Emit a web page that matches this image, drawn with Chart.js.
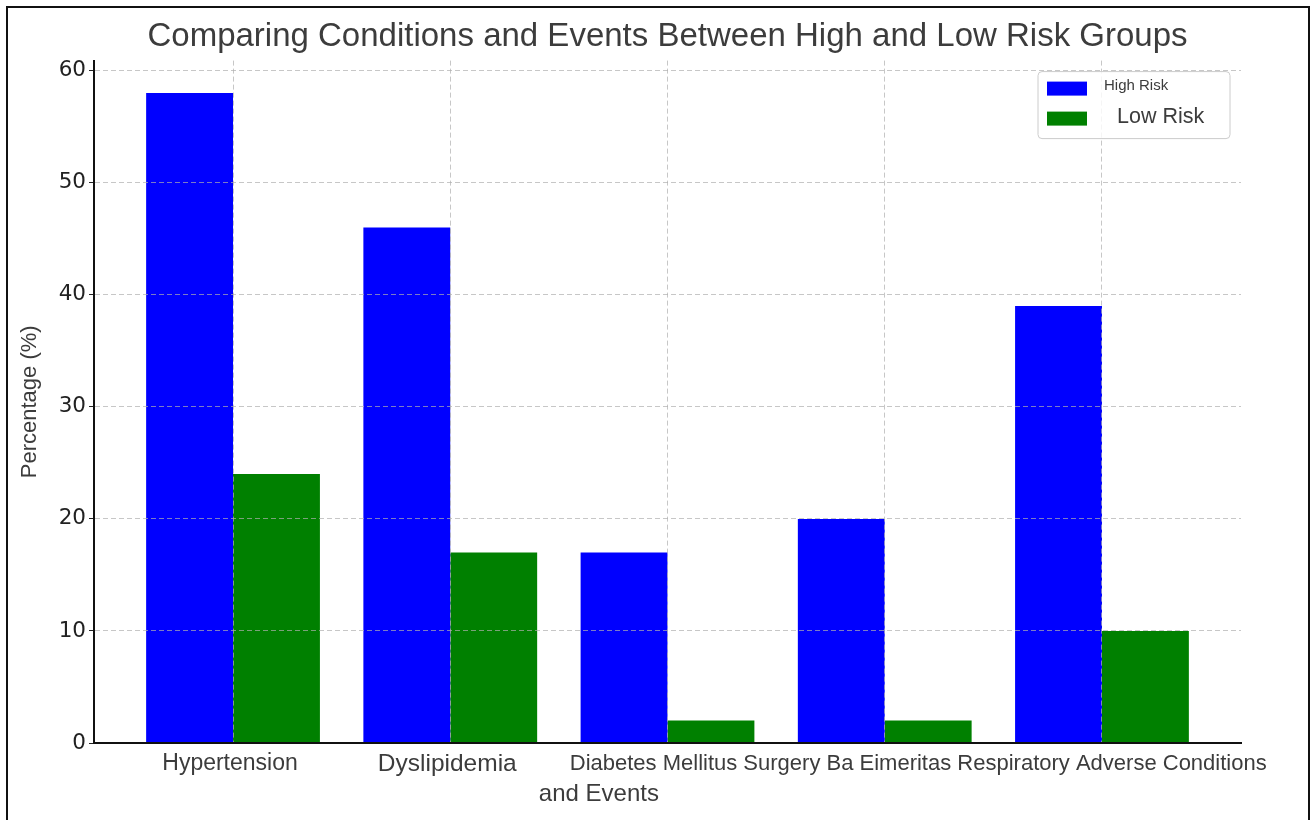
<!DOCTYPE html>
<html>
<head>
<meta charset="utf-8">
<script src="https://cdn.jsdelivr.net/npm/chart.js@4.4.1/dist/chart.umd.min.js"></script>
<style>
  html, body { margin: 0; padding: 0; background: #fff; overflow: hidden; }
  #wrap { position: relative; width: 1311px; height: 820px; }
  #c { position: absolute; left: 0; top: 0; }
  #frame { position: absolute; left: 6px; top: 6px; width: 1300px; height: 840px;
           border: 2px solid #111; border-bottom: none; pointer-events: none; }
</style>
</head>
<body>
<div id="wrap">
  <canvas id="c" width="1311" height="820"></canvas>
  <div id="frame"></div>
</div>
<script>
// ---- data ----
const categories = ['Hypertension', 'Dyslipidemia', 'Diabetes Mellitus', 'Surgery Ba Eimeritas', 'Respiratory Adverse Conditions'];
const highRisk = [58, 46, 17, 20, 39];
const lowRisk = [24, 17, 2, 2, 10];
const yTicks = [0, 10, 20, 30, 40, 50, 60];
const chartTitle = 'Comparing Conditions and Events Between High and Low Risk Groups';
const xTitle = 'and Events';
const yTitle = 'Percentage (%)';
const seriesNames = ['High Risk', 'Low Risk'];

// ---- styling ----
const SANS = "'Liberation Sans', Arial, sans-serif";
const DEJAVU = "'DejaVu Sans', sans-serif";
const TEXT = '#3c3c3c';
const categoryFontSizes = [23, 24.5, 22, 22, 22];
const legendFontSizes = [15, 21.5];
const gridColor = 'rgba(175,175,175,0.7)';

const toPoints = (vals) => vals.map((v, i) => ({ x: i, y: v }));

// Category names under the x axis; the last three share one running line.
const categoryLabels = {
  id: 'categoryLabels',
  afterDraw(chart) {
    const xs = chart.scales.x;
    const ctx = chart.ctx;
    ctx.save();
    ctx.fillStyle = TEXT;
    ctx.textBaseline = 'middle';
    ctx.textAlign = 'left';
    const y = xs.top + 21;
    let runEnd = null;
    categories.forEach((name, i) => {
      ctx.font = `${categoryFontSizes[i]}px ${SANS}`;
      const w = ctx.measureText(name).width;
      let x = xs.getPixelForValue(i) - w / 2;
      if (i < 2) x -= 3;
      if (i === 2) x -= 14;
      if (i > 2 && runEnd !== null) x = runEnd + ctx.measureText(' ').width;
      ctx.fillText(name, x, y);
      if (i >= 2) runEnd = x + w;
    });
    // x-axis title
    ctx.font = `24px ${SANS}`;
    ctx.textAlign = 'center';
    const tx = (xs.getPixelForValue(1) + xs.getPixelForValue(2)) / 2 + 40;
    ctx.fillText(xTitle, tx, xs.top + 51);
    ctx.restore();
  }
};

// Framed legend in the upper right of the plot area.
const boxLegend = {
  id: 'boxLegend',
  afterDraw(chart) {
    const ctx = chart.ctx;
    const a = chart.chartArea;
    const w = 192, h = 67;
    const x0 = a.right - 11 - w, y0 = a.top + 11;
    ctx.save();
    ctx.beginPath();
    ctx.roundRect(x0, y0, w, h, 4);
    ctx.fillStyle = 'rgba(255,255,255,0.82)';
    ctx.fill();
    ctx.strokeStyle = '#cccccc';
    ctx.lineWidth = 1;
    ctx.stroke();
    chart.data.datasets.forEach((ds, i) => {
      const rowY = y0 + 17 + i * 30;
      ctx.fillStyle = ds.backgroundColor;
      ctx.fillRect(x0 + 9, rowY - 7, 40, 14);
      ctx.fillStyle = TEXT;
      ctx.font = `${legendFontSizes[i]}px ${SANS}`;
      ctx.textBaseline = 'middle';
      ctx.fillText(ds.label, x0 + (i === 0 ? 66 : 79), rowY - (i === 0 ? 3 : 2));
    });
    ctx.restore();
  }
};

new Chart(document.getElementById('c'), {
  type: 'bar',
  data: {
    datasets: [
      { label: seriesNames[0], data: toPoints(highRisk), backgroundColor: '#0000ff', borderWidth: 0 },
      { label: seriesNames[1], data: toPoints(lowRisk), backgroundColor: '#008000', borderWidth: 0 }
    ]
  },
  options: {
    responsive: false,
    animation: false,
    devicePixelRatio: 1,
    categoryPercentage: 0.8,
    barPercentage: 1.0,
    layout: { padding: { left: 0, right: 70, top: 0, bottom: 0 } },
    plugins: {
      legend: { display: false },
      tooltip: { enabled: false },
      title: {
        display: true,
        text: chartTitle,
        fullSize: false,
        color: TEXT,
        font: { family: SANS, size: 33, weight: 'normal', lineHeight: 1.2 },
        padding: { top: 17, bottom: 4 }
      }
    },
    scales: {
      x: {
        type: 'linear',
        min: -0.64,
        max: 4.64,
        offset: false,
        afterBuildTicks: (s) => { s.ticks = categories.map((_, i) => ({ value: i })); },
        afterFit: (s) => { s.height = 77; },
        ticks: { display: false },
        grid: { z: 1, offset: false, color: gridColor, lineWidth: 1, drawTicks: false },
        border: { z: 2, color: '#111', width: 2, dash: [5, 3] }
      },
      y: {
        min: 0,
        max: 60.9,
        afterBuildTicks: (s) => { s.ticks = yTicks.map(v => ({ value: v })); },
        afterFit: (s) => { s.width = 94; },
        ticks: { color: '#222', padding: 3, font: { family: DEJAVU, size: 21.5 } },
        grid: { z: 1, color: gridColor, lineWidth: 1, drawTicks: true, tickLength: 5,
                tickColor: '#222', tickWidth: 1, tickBorderDash: [] },
        border: { z: 2, color: '#111', width: 2, dash: [5, 3] },
        title: { display: true, text: yTitle, color: TEXT,
                 font: { family: SANS, size: 22 }, padding: { top: 17, bottom: 0 } }
      }
    }
  },
  plugins: [categoryLabels, boxLegend]
});
</script>
</body>
</html>
